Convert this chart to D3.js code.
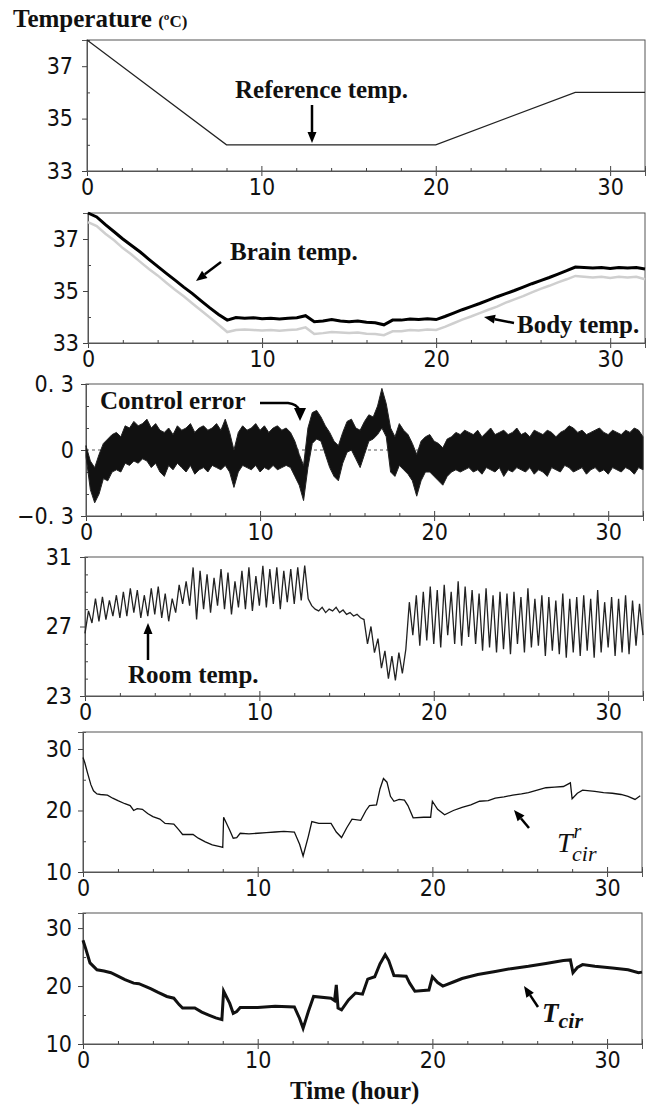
<!DOCTYPE html>
<html lang="en">
<head>
    <meta charset="UTF-8">
    <title>Temperature control</title>
    <script src="https://cdnjs.cloudflare.com/ajax/libs/d3/7.8.5/d3.min.js"></script>
    <style>
        body { margin: 0; background: #fff; }
        .tick text { font-family: "Liberation Sans Narrow", "DejaVu Sans Condensed", sans-serif; }
    </style>
</head>
<body>
    <script>
        // size of the whole figure
        var w = 656;
        var h = 1107;

        // x axis (hours)
        var hourTicks = [0, 10, 20, 30];
        var hourMinor = [2, 4, 6, 8, 12, 14, 16, 18, 22, 24, 26, 28, 32];

        // panel 1 - reference temperature
        var refHours = [0, 8, 20, 28, 32];
        var refTemp = [38, 34, 34, 36, 36];

        // panel 2 - brain and body temperature (every 0.5 h)
        var tempHours = d3.range(0, 32.01, 0.5);
        var brainTemp = [38.0, 37.85, 37.55, 37.28, 37.0, 36.75, 36.5, 36.22, 35.95, 35.68,
            35.42, 35.15, 34.9, 34.62, 34.35, 34.1, 33.88, 33.98, 33.95, 33.97,
            33.93, 33.95, 33.92, 33.95, 33.97, 34.05, 33.82, 33.85, 33.9, 33.85,
            33.82, 33.85, 33.8, 33.78, 33.7, 33.88, 33.88, 33.92, 33.9, 33.93,
            33.9, 34.02, 34.15, 34.28, 34.4, 34.52, 34.65, 34.78, 34.9, 35.02,
            35.15, 35.28, 35.4, 35.52, 35.65, 35.78, 35.92, 35.9, 35.88, 35.9,
            35.87, 35.9, 35.88, 35.9, 35.85];
        var bodyTemp = [37.65, 37.5, 37.2, 36.95, 36.65, 36.4, 36.12, 35.85, 35.6, 35.32,
            35.05, 34.8, 34.52, 34.25, 33.98, 33.7, 33.42, 33.5, 33.52, 33.5,
            33.48, 33.5, 33.47, 33.5, 33.52, 33.6, 33.35, 33.38, 33.42, 33.4,
            33.38, 33.4, 33.36, 33.35, 33.3, 33.45, 33.45, 33.5, 33.48, 33.52,
            33.5, 33.62, 33.76, 33.9, 34.02, 34.15, 34.28, 34.4, 34.55, 34.68,
            34.8, 34.95, 35.08, 35.2, 35.33, 35.45, 35.58, 35.55, 35.52, 35.55,
            35.5, 35.55, 35.52, 35.55, 35.45];

        // panel 3 - control error, upper and lower edge of the band (every 0.25 h)
        var errHours = d3.range(0, 32.01, 0.25);
        var errHigh = [0.02, -0.05, -0.08, -0.02, 0.03, 0.05, 0.07, 0.08, 0.06, 0.11,
            0.10, 0.13, 0.11, 0.12, 0.14, 0.10, 0.12, 0.09, 0.08, 0.10,
            0.07, 0.11, 0.09, 0.10, 0.12, 0.08, 0.10, 0.11, 0.09, 0.10,
            0.12, 0.09, 0.14, 0.08, 0.00, 0.08, 0.11, 0.09, 0.10, 0.12,
            0.09, 0.11, 0.08, 0.10, 0.11, 0.09, 0.10, 0.08, 0.04, -0.02,
            -0.07, 0.10, 0.17, 0.18, 0.15, 0.11, 0.08, 0.04, 0.02, 0.08,
            0.13, 0.14, 0.10, 0.09, 0.13, 0.16, 0.15, 0.20, 0.28, 0.21,
            0.10, 0.06, 0.12, 0.09, 0.07, 0.03, -0.02, 0.04, 0.06, 0.07,
            0.04, 0.03, 0.01, 0.05, 0.06, 0.08, 0.07, 0.09, 0.08, 0.07,
            0.09, 0.06, 0.08, 0.10, 0.07, 0.08, 0.09, 0.07, 0.08, 0.10,
            0.07, 0.08, 0.06, 0.09, 0.08, 0.07, 0.09, 0.08, 0.06, 0.08,
            0.09, 0.11, 0.10, 0.08, 0.09, 0.07, 0.08, 0.09, 0.10, 0.08,
            0.07, 0.09, 0.08, 0.07, 0.09, 0.08, 0.10, 0.09, 0.06];
        var errLow = [-0.03, -0.18, -0.24, -0.20, -0.13, -0.14, -0.10, -0.09, -0.10, -0.06,
            -0.07, -0.05, -0.06, -0.04, -0.05, -0.08, -0.06, -0.10, -0.12, -0.07,
            -0.09, -0.06, -0.08, -0.10, -0.07, -0.11, -0.09, -0.08, -0.10, -0.07,
            -0.08, -0.09, -0.07, -0.10, -0.17, -0.10, -0.07, -0.08, -0.09, -0.07,
            -0.10, -0.08, -0.09, -0.07, -0.09, -0.08, -0.07, -0.08, -0.12, -0.16,
            -0.23, -0.08, 0.03, 0.05, 0.04, -0.02, -0.08, -0.12, -0.14, -0.06,
            -0.01, 0.00, -0.04, -0.08, -0.02, 0.04, 0.05, 0.07, 0.10, 0.06,
            -0.10, -0.12, -0.07, -0.09, -0.11, -0.14, -0.21, -0.14, -0.10, -0.10,
            -0.12, -0.14, -0.16, -0.12, -0.10, -0.09, -0.10, -0.09, -0.08, -0.10,
            -0.09, -0.11, -0.08, -0.09, -0.10, -0.08, -0.12, -0.09, -0.10, -0.08,
            -0.09, -0.10, -0.08, -0.11, -0.09, -0.10, -0.12, -0.08, -0.09, -0.10,
            -0.07, -0.08, -0.10, -0.09, -0.08, -0.11, -0.09, -0.08, -0.10, -0.09,
            -0.11, -0.08, -0.09, -0.10, -0.08, -0.09, -0.11, -0.08, -0.09];

        // panel 4 - room temperature (every 0.2 h)
        var roomHours = d3.range(0, 32.01, 0.2);
        var roomTemp = [
            26.6, 27.9, 27.2, 28.6, 27.3,  28.7, 27.4, 28.5, 27.6, 28.8,
            27.5, 29.0, 27.6, 29.2, 27.8,  29.1, 27.5, 28.8, 27.6, 29.2,
            27.7, 29.3, 27.5, 28.9, 27.3,  28.6, 27.8, 29.4, 28.3, 29.6,
            28.2, 30.4, 27.4, 30.2, 28.0,  30.0, 27.8, 29.8, 28.2, 30.3,
            28.0, 30.1, 27.7, 29.6, 28.1,  30.2, 28.0, 30.4, 27.9, 29.9,
            28.2, 30.5, 28.1, 30.3, 28.3,  30.4, 28.0, 30.2, 28.4, 30.3,
            28.3, 30.4, 28.5, 30.5, 28.6,  28.2, 28.0, 27.9, 28.1, 27.8,
            28.0, 27.9, 28.1, 27.8, 27.95, 27.7, 27.8, 27.6, 27.7, 27.5,
            27.4, 26.0, 27.0, 25.5, 26.3,  24.6, 25.6, 24.0, 25.3, 23.9,
            25.5, 24.3, 25.7, 28.4, 26.5,  28.8, 25.9, 29.0, 26.2, 29.3,
            26.0, 29.1, 25.8, 29.4, 26.5,  29.0, 26.0, 29.6, 25.9, 29.3,
            26.4, 29.1, 26.0, 28.9, 25.6,  29.2, 25.8, 28.8, 25.5, 29.0,
            25.7, 28.9, 25.4, 29.0, 26.0,  28.7, 25.5, 29.2, 25.8, 28.6,
            25.9, 28.8, 25.3, 28.7, 25.6,  28.5, 25.4, 28.9, 25.2, 28.6,
            25.5, 28.7, 25.3, 28.8, 25.6,  28.6, 25.2, 29.1, 25.5, 28.4,
            25.8, 28.7, 25.3, 28.6, 25.5,  28.8, 25.4, 28.5, 25.9, 28.3,
            26.5];

        // panel 5 - reference circulating water temperature
        var tcrHours = [0, 0.1, 0.25, 0.45, 0.6, 0.8, 1.0, 1.4, 1.7, 2.0, 2.4, 2.7, 2.9, 3.1, 3.4,
            3.7, 4.0, 4.4, 4.7, 5.2, 5.5, 5.7, 6.3, 6.6, 7.0, 7.4, 7.9, 8.0, 8.05, 8.4,
            8.6, 8.8, 9.0, 9.5, 10, 10.5, 11, 11.5, 12.1, 12.4, 12.6, 12.9, 13.1, 13.5, 14.2,
            14.5, 14.8, 15.1, 15.4, 15.9, 16.2, 16.4, 16.8, 17.0, 17.2, 17.4, 17.6, 17.8, 18.1, 18.4,
            18.6, 18.9, 19.5, 19.9, 20.0, 20.3, 20.7, 21.2, 21.7, 22.2, 22.7, 23.2, 23.6, 24.1, 24.6,
            25.1, 25.5, 26.0, 26.5, 27.0, 27.5, 27.9, 28.0, 28.3, 28.6, 29.3, 29.8, 30.3, 30.8, 31.2,
            31.6, 31.9];
        var tcrTemp = [28.6, 27.8, 26.2, 24.2, 23.2, 22.7, 22.6, 22.5, 22.0, 21.6, 21.1, 20.8, 20.0, 20.3, 20.2,
            19.5, 19.0, 18.6, 17.9, 17.8, 16.8, 16.1, 16.1, 15.5, 14.9, 14.4, 14.1, 14.0, 18.9, 16.8,
            15.5, 15.6, 16.3, 16.2, 16.3, 16.4, 16.5, 16.6, 16.5, 14.5, 12.6, 15.8, 18.2, 17.9, 17.9,
            16.5, 15.6, 17.2, 18.6, 18.4, 20.0, 20.8, 20.9, 23.5, 25.2, 24.6, 22.3, 21.5, 21.8, 21.7,
            20.8, 18.8, 18.9, 18.9, 21.5, 20.2, 19.3, 20.0, 20.5, 20.9, 21.5, 21.6, 22.0, 22.2, 22.5,
            22.7, 22.9, 23.3, 23.7, 23.8, 23.9, 24.5, 21.9, 22.8, 23.3, 23.1, 22.9, 22.8, 22.6, 22.3,
            21.8, 22.4];

        // panel 6 - circulating water temperature
        var tcHours = [0, 0.15, 0.4, 0.8, 1.2, 1.6, 2.0, 2.4, 2.9, 3.2, 3.6, 3.9, 4.3, 4.8, 5.2,
            5.5, 5.7, 6.4, 6.8, 7.2, 7.6, 7.95, 8.05, 8.4, 8.6, 8.8, 9.0, 10, 11, 12.1,
            12.4, 12.6, 12.9, 13.2, 14.2, 14.4, 14.5, 14.6, 14.8, 15.2, 15.6, 16.0, 16.3, 16.7, 17.0,
            17.3, 17.5, 17.8, 18.5, 18.7, 19.0, 19.8, 20.0, 20.3, 20.6, 21.2, 21.7, 22.6, 23.6, 24.5,
            25.5, 26.5, 27.5, 27.9, 28.05, 28.3, 28.6, 29.3, 30.3, 31.2, 31.8, 32];
        var tcTemp = [27.9, 26.5, 24.0, 22.8, 22.6, 22.3, 21.7, 21.1, 20.5, 20.4, 19.9, 19.5, 18.9, 18.2, 17.9,
            16.8, 16.2, 16.2, 15.5, 15.0, 14.5, 14.2, 19.1, 17.0, 15.3, 15.6, 16.3, 16.3, 16.5, 16.4,
            14.4, 12.7, 15.6, 18.2, 17.9, 17.5, 20.2, 16.2, 15.9, 17.6, 18.8, 18.6, 21.2, 21.6, 23.8,
            25.4, 24.4, 21.8, 21.7, 20.5, 19.1, 19.3, 21.6, 20.6, 20.0, 20.7, 21.3, 22.0, 22.5, 23.0,
            23.4, 23.9, 24.4, 24.5, 22.3, 23.2, 23.7, 23.4, 23.1, 22.8, 22.3, 22.4];

        // y tick values and labels of every panel
        var tempTicks = [33, 35, 37];
        var tempMinor = [34, 36, 38];
        var errTicks = [-0.3, 0, 0.3];
        var errTickLabels = ["\u22120. 3", "0", "0. 3"];
        var errMinor = [-0.2, -0.1, 0.1, 0.2];
        var roomTicks = [23, 27, 31];
        var roomMinor = [24, 25, 26, 28, 29, 30];
        var waterTicks = [10, 20, 30];
        var waterMinor = [15, 25];

        // layout of the six panels
        var panels = [
            {left: 87, right: 645, top: 40, bottom: 171, y0: 33, y1: 38, ticks: tempTicks, minor: tempMinor, labelGap: 14},
            {left: 88, right: 645, top: 213, bottom: 343, y0: 33, y1: 38, ticks: tempTicks, minor: tempMinor, labelGap: 9},
            {left: 86, right: 643, top: 384, bottom: 516, y0: -0.3, y1: 0.3, ticks: errTicks, minor: errMinor, labels: errTickLabels, labelGap: 12},
            {left: 85, right: 643, top: 557, bottom: 696, y0: 23, y1: 31, ticks: roomTicks, minor: roomMinor, labelGap: 13},
            {left: 83, right: 642, top: 732, bottom: 872, y0: 10, y1: 32.76, ticks: waterTicks, minor: waterMinor, labelGap: 11},
            {left: 83, right: 642, top: 913, bottom: 1044, y0: 10, y1: 32.6, ticks: waterTicks, minor: waterMinor, labelGap: 11}
        ];

        var svg = d3.select("body")
                    .append("svg")
                    .attr("width", w)
                    .attr("height", h);

        svg.append("rect").attr("width", w).attr("height", h).attr("fill", "#fff");

        var serif = "'Liberation Serif', 'Times New Roman', serif";

        // build scales and axes for each panel
        panels.forEach(function(p) {
            p.x = d3.scaleLinear().domain([0, 32]).range([p.left, p.right]);
            p.y = d3.scaleLinear().domain([p.y0, p.y1]).range([p.bottom, p.top]);

            var g = svg.append("g");

            // frame
            g.append("rect")
                .attr("x", p.left).attr("y", p.top)
                .attr("width", p.right - p.left).attr("height", p.bottom - p.top)
                .attr("fill", "none").attr("stroke", "#555").attr("stroke-width", 1);

            // x axis: major ticks cross the line, minor ticks inward
            var xa = g.append("g").attr("transform", "translate(0," + p.bottom + ")")
                .call(d3.axisBottom(p.x).tickValues(hourTicks).tickSize(5).tickPadding(3));
            g.append("g").attr("transform", "translate(0," + p.bottom + ")")
                .call(d3.axisBottom(p.x).tickValues(hourTicks).tickSize(-5).tickFormat(""));
            g.append("g").attr("transform", "translate(0," + p.bottom + ")")
                .call(d3.axisBottom(p.x).tickValues(hourMinor).tickSize(-3).tickFormat(""));
            xa.selectAll("text").attr("font-size", 23).attr("fill", "#111");

            // y axis
            var ya = g.append("g").attr("transform", "translate(" + p.left + ",0)")
                .call(d3.axisLeft(p.y).tickValues(p.ticks).tickSize(5).tickPadding(p.labelGap - 5)
                    .tickFormat(function(d, i) { return p.labels ? p.labels[i] : d; }));
            g.append("g").attr("transform", "translate(" + p.left + ",0)")
                .call(d3.axisLeft(p.y).tickValues(p.minor).tickSize(-3).tickFormat(""));
            ya.selectAll("text").attr("font-size", 23).attr("fill", "#111");

            g.selectAll(".domain").attr("stroke", "#555");
            g.selectAll(".tick line").attr("stroke", "#444");
        });

        function lineFor(p, xs) {
            return d3.line()
                .x(function(d, i) { return p.x(xs[i]); })
                .y(function(d) { return p.y(d); });
        }

        // arrow with a filled head at (x2, y2)
        function arrow(x1, y1, x2, y2) {
            var a = Math.atan2(y2 - y1, x2 - x1);
            var len = 11, half = 4.5;
            var bx = x2 - len * Math.cos(a), by = y2 - len * Math.sin(a);
            svg.append("line")
                .attr("x1", x1).attr("y1", y1).attr("x2", bx).attr("y2", by)
                .attr("stroke", "#000").attr("stroke-width", 2.5);
            svg.append("polygon")
                .attr("points", [
                    [x2, y2],
                    [bx + half * Math.sin(a), by - half * Math.cos(a)],
                    [bx - half * Math.sin(a), by + half * Math.cos(a)]
                ].join(" "))
                .attr("fill", "#000");
        }

        function label(x, y, txt, size, style) {
            return svg.append("text")
                .attr("x", x).attr("y", y)
                .attr("font-family", serif)
                .attr("font-size", size)
                .attr("font-weight", style && style.bold === false ? "normal" : "bold")
                .attr("font-style", style && style.italic ? "italic" : "normal")
                .attr("fill", "#111")
                .text(txt);
        }

        // panel 1
        var p1 = panels[0];
        svg.append("path")
            .attr("d", lineFor(p1, refHours)(refTemp))
            .attr("fill", "none").attr("stroke", "#222").attr("stroke-width", 1.2);

        // panel 2
        var p2 = panels[1];
        svg.append("path")
            .attr("d", lineFor(p2, tempHours)(bodyTemp))
            .attr("fill", "none").attr("stroke", "#cfcfcf").attr("stroke-width", 2.5);
        svg.append("path")
            .attr("d", lineFor(p2, tempHours)(brainTemp))
            .attr("fill", "none").attr("stroke", "#000").attr("stroke-width", 3);

        // panel 3
        var p3 = panels[2];
        svg.append("line")
            .attr("x1", p3.left).attr("x2", p3.right)
            .attr("y1", p3.y(0)).attr("y2", p3.y(0))
            .attr("stroke", "#555").attr("stroke-dasharray", "3,3");
        var errArea = d3.area()
            .x(function(d, i) { return p3.x(errHours[i]); })
            .y0(function(d, i) { return p3.y(errLow[i]); })
            .y1(function(d) { return p3.y(d); });
        svg.append("path")
            .attr("d", errArea(errHigh))
            .attr("fill", "#111").attr("stroke", "#222").attr("stroke-width", 1);

        // panel 4
        var p4 = panels[3];
        svg.append("path")
            .attr("d", lineFor(p4, roomHours)(roomTemp))
            .attr("fill", "none").attr("stroke", "#222").attr("stroke-width", 1.3);

        // panel 5
        var p5 = panels[4];
        svg.append("path")
            .attr("d", lineFor(p5, tcrHours)(tcrTemp))
            .attr("fill", "none").attr("stroke", "#111").attr("stroke-width", 1.3);

        // panel 6
        var p6 = panels[5];
        svg.append("path")
            .attr("d", lineFor(p6, tcHours)(tcTemp))
            .attr("fill", "none").attr("stroke", "#111").attr("stroke-width", 3);

        // titles
        var title = label(13, 27, "Temperature ", 25);
        title.append("tspan").attr("font-size", 17).text("(\u00baC)");
        label(290, 1099, "Time (hour)", 25);

        // annotations
        label(235, 98, "Reference temp.", 25);
        arrow(312, 105, 312, 143);

        label(230, 260, "Brain temp.", 25);
        arrow(221, 262, 196, 281);

        label(517, 333, "Body temp.", 25);
        arrow(514, 323, 484, 317);

        label(100, 409, "Control error", 25);
        svg.append("path")
            .attr("d", "M260,403 L288,403 Q297,404 299,410")
            .attr("fill", "none").attr("stroke", "#000").attr("stroke-width", 2.5);
        svg.append("polygon").attr("points", "294,408 306,408 300,421").attr("fill", "#000");

        label(128, 683, "Room temp.", 25);
        arrow(148, 660, 148, 623);

        // T with superscript r and subscript cir
        var tcr = label(557, 852, "T", 28, {bold: false, italic: true});
        tcr.append("tspan").attr("font-size", 20).attr("dx", 1).attr("dy", -14).text("r");
        tcr.append("tspan").attr("font-size", 22).attr("x", 572).attr("dy", 23).text("cir");
        arrow(529, 828, 514, 810);

        var tc = label(542, 1022, "T", 27, {italic: true});
        tc.append("tspan").attr("font-size", 22).attr("dy", 6).text("cir");
        arrow(538, 1007, 524, 986);
    </script>
</body>
</html>
